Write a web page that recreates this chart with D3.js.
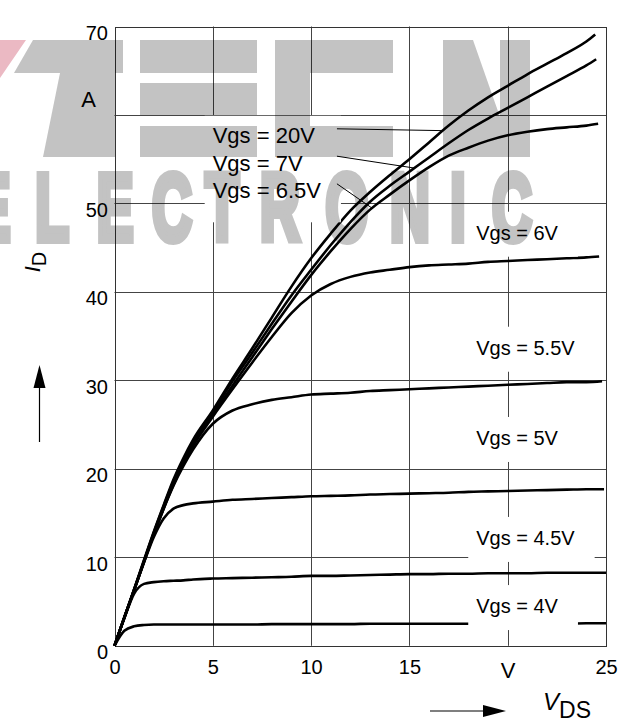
<!DOCTYPE html>
<html>
<head>
<meta charset="utf-8">
<script src="https://cdn.jsdelivr.net/npm/d3@7"></script>
<style>
  html, body { margin: 0; padding: 0; background: #fff; }
  svg { display: block; font-family: "Liberation Sans", Arial, Helvetica, sans-serif; }
</style>
</head>
<body>
<svg id="chart" width="629" height="722"></svg>
<script>
// Output characteristics I_D = f(V_DS), parameter V_GS

// Drain-source voltage sample points (V)
const vds = [0, 0.5, 1, 1.5, 2, 2.5, 3, 3.5, 4, 5, 6, 7, 8, 9, 10, 11, 12, 13, 14,
             15, 16, 17, 18, 19, 20, 21, 22, 23, 24];

// Gate voltages and where each trace stops on the V_DS axis
const gateLabels = ["Vgs = 20V", "Vgs = 7V", "Vgs = 6.5V", "Vgs = 6V",
                    "Vgs = 5.5V", "Vgs = 5V", "Vgs = 4.5V", "Vgs = 4V"];
const vdsEnd = [24.45, 24.5, 24.6, 24.65, 24.8, 24.9, 25, 25];

// Drain current (A) at each vds point, last value at vdsEnd
const id20V  = [0, 3.2, 6.4, 9.7, 12.9, 15.9, 18.8, 21.2, 23.3, 26.6, 30.2, 33.6, 37.1, 40.6, 43.8, 46.6, 49.2, 51.3, 53.2,
                55.0, 56.9, 58.8, 60.5, 62.0, 63.3, 64.6, 65.8, 67.0, 68.3, 69.1];
const id7V   = [0, 3.2, 6.4, 9.6, 12.8, 15.8, 18.6, 21.0, 23.1, 26.4, 29.9, 33.1, 36.4, 39.6, 42.5, 45.3, 47.9, 50.2, 52.0,
                53.6, 55.2, 56.8, 58.3, 59.6, 60.8, 62.0, 63.2, 64.4, 65.6, 66.3];
const id6_5V = [0, 3.2, 6.3, 9.5, 12.7, 15.6, 18.4, 20.8, 22.9, 26.1, 29.4, 32.6, 35.8, 38.9, 41.9, 44.6, 47.1, 49.3, 51.0,
                52.6, 54.1, 55.4, 56.3, 57.1, 57.7, 58.1, 58.4, 58.6, 58.8, 59.0];
const id6V   = [0, 3.2, 6.3, 9.5, 12.6, 15.5, 18.2, 20.6, 22.6, 25.9, 29.0, 32.0, 34.9, 37.6, 39.6, 40.9, 41.7, 42.2, 42.5,
                42.8, 43.0, 43.1, 43.2, 43.4, 43.5, 43.6, 43.7, 43.8, 43.9, 44.0];
const id5_5V = [0, 3.2, 6.3, 9.5, 12.6, 15.5, 18.1, 20.3, 22.2, 25.1, 26.6, 27.3, 27.8, 28.1, 28.4, 28.5, 28.6, 28.8, 28.9,
                29.0, 29.1, 29.2, 29.3, 29.4, 29.5, 29.6, 29.7, 29.8, 29.8, 29.9];
const id5V   = [0, 3.2, 6.3, 9.4, 12.3, 14.4, 15.5, 15.9, 16.1, 16.3, 16.5, 16.6, 16.7, 16.8, 16.9, 16.95, 17.0, 17.1, 17.15,
                17.2, 17.25, 17.3, 17.4, 17.45, 17.5, 17.55, 17.6, 17.65, 17.7, 17.7];
const id4_5V = [0, 3.1, 5.9, 7.0, 7.2, 7.3, 7.35, 7.4, 7.5, 7.6, 7.65, 7.7, 7.75, 7.8, 7.9, 7.9, 7.95, 8.0, 8.05,
                8.1, 8.1, 8.15, 8.15, 8.2, 8.2, 8.2, 8.25, 8.25, 8.25, 8.25];
const id4V   = [0, 1.7, 2.2, 2.35, 2.4, 2.4, 2.4, 2.4, 2.4, 2.4, 2.4, 2.4, 2.45, 2.45, 2.45, 2.45, 2.45, 2.5, 2.5,
                2.5, 2.5, 2.5, 2.5, 2.5, 2.5, 2.5, 2.5, 2.5, 2.55, 2.55];
const currents = [id20V, id7V, id6_5V, id6V, id5_5V, id5V, id4_5V, id4V];

// Axis ticks
const xTicks = [0, 5, 10, 15, 20, 25];
const xTickLabels = ["0", "5", "10", "15", "V", "25"];
const yTicks = [0, 10, 20, 30, 40, 50, 60, 70];
const yTickLabels = ["0", "10", "20", "30", "40", "50", "", "70"];

// V_DS where the leader lines of the three upper labels meet their traces
const leaderVds = [16.7, 15.25, 13.1];
// Label baselines, in amperes, for the traces labelled on the right
const rightLabelId = [45.9, 32.9, 22.7, 11.4, 3.7];

const svg = d3.select("#chart");
const W = 629, H = 722;
const x = d3.scaleLinear().domain([0, 25]).range([114.5, 606]);
const y = d3.scaleLinear().domain([0, 70]).range([645.8, 26.5]);
const FONT = '"Liberation Sans", Arial, Helvetica, sans-serif';
const px = v => Math.round(v) + 0.5;

svg.append("rect").attr("width", W).attr("height", H).attr("fill", "#fff");

// Grid
const grid = svg.append("g").attr("stroke", "#444").attr("stroke-width", 1).attr("fill", "none");
grid.selectAll("line.v").data(xTicks.slice(1, -1)).join("line")
  .attr("x1", d => px(x(d))).attr("x2", d => px(x(d)))
  .attr("y1", y(70)).attr("y2", y(0));
grid.selectAll("line.h").data(yTicks.slice(1, -1)).join("line")
  .attr("x1", x(0)).attr("x2", x(25))
  .attr("y1", d => px(y(d))).attr("y2", d => px(y(d)));
svg.append("rect")
  .attr("x", px(x(0))).attr("y", px(y(70)))
  .attr("width", Math.round(x(25)) - Math.round(x(0)))
  .attr("height", Math.round(y(0)) - Math.round(y(70)))
  .attr("fill", "none").attr("stroke", "#333").attr("stroke-width", 1);

// Traces
const seriesPts = currents.map((ids, s) => ids.map((v, i) => [i < vds.length ? vds[i] : vdsEnd[s], v]));
const line = d3.line().x(d => x(d[0])).y(d => y(d[1])).curve(d3.curveMonotoneX);
svg.append("g").selectAll("path").data(seriesPts).join("path")
  .attr("d", line)
  .attr("fill", "none").attr("stroke", "#000").attr("stroke-width", 2.6)
  .attr("stroke-linejoin", "round").attr("stroke-linecap", "butt");

function idAt(s, v) {
  const pts = seriesPts[s];
  for (let i = 1; i < pts.length; i++) {
    if (v <= pts[i][0]) {
      const t = (v - pts[i - 1][0]) / (pts[i][0] - pts[i - 1][0]);
      return pts[i - 1][1] + t * (pts[i][1] - pts[i - 1][1]);
    }
  }
  return pts[pts.length - 1][1];
}

// Upper-left label block (20 V, 7 V, 6.5 V)
const upX = x(5) - 0.1;
const upBase = [143.3, 170.7, 198.3];
const upBox = svg.append("rect").attr("fill", "#fff");
const upText = svg.append("g").selectAll("text").data(gateLabels.slice(0, 3)).join("text")
  .attr("x", upX).attr("y", (d, i) => upBase[i])
  .attr("font-size", 22).attr("font-family", FONT).attr("fill", "#000")
  .text(d => d);
let upW = 0;
upText.each(function () { upW = Math.max(upW, this.getComputedTextLength()); });
const upRight = upX + upW + 20;
upBox.attr("x", upX - 8).attr("y", upBase[0] - 27.5)
  .attr("width", upW + 28).attr("height", upBase[2] + 24 - (upBase[0] - 27.5));
svg.append("g").attr("stroke", "#000").attr("stroke-width", 1)
  .selectAll("line").data(leaderVds).join("line")
  .attr("x1", upRight - 4).attr("y1", (d, i) => upBase[i] - 14.5)
  .attr("x2", d => x(d)).attr("y2", (d, i) => y(idAt(i, d)));

// Right-hand labels (6 V down to 4 V), each on a white box
const rX = x(18.4);
const rg = svg.append("g").selectAll("g").data(gateLabels.slice(3)).join("g");
rg.each(function (d, i) {
  const g = d3.select(this);
  const base = y(rightLabelId[i]);
  const box = g.append("rect").attr("fill", "#fff");
  const t = g.append("text").attr("x", rX).attr("y", base)
    .attr("font-size", 20).attr("font-family", FONT).attr("fill", "#000").text(d);
  const w = t.node().getComputedTextLength();
  box.attr("x", rX - 8).attr("y", base - 28).attr("width", w + 28).attr("height", 45);
});

// Axis numbers
const gx = svg.append("g").attr("transform", `translate(0,${y(0)})`)
  .call(d3.axisBottom(x).tickValues(xTicks).tickFormat((d, i) => xTickLabels[i]).tickSize(0));
gx.select(".domain").remove();
gx.selectAll("text").attr("dy", null).attr("y", (d, i) => xTickLabels[i] === "V" ? 32.5 : 28.7)
  .attr("font-size", (d, i) => xTickLabels[i] === "V" ? 22 : 20)
  .attr("font-family", FONT).attr("fill", "#000");

const gy = svg.append("g").attr("transform", `translate(${x(0)},0)`)
  .call(d3.axisLeft(y).tickValues(yTicks).tickFormat((d, i) => yTickLabels[i]).tickSize(0).tickPadding(6.5));
gy.select(".domain").remove();
gy.selectAll("text").attr("dy", null).attr("y", 12.7)
  .attr("font-size", 20).attr("font-family", FONT).attr("fill", "#000");

svg.append("text").attr("x", 88.5).attr("y", y(60) - 8).attr("text-anchor", "middle")
  .attr("font-size", 22).attr("font-family", FONT).attr("fill", "#000").text("A");

// Axis titles with arrows
const yt = svg.append("text").attr("transform", "translate(39.5,262) rotate(-90)")
  .attr("text-anchor", "middle").attr("font-family", FONT).attr("fill", "#000");
yt.append("tspan").attr("font-size", 22).attr("font-style", "italic").text("I");
yt.append("tspan").attr("font-size", 20).attr("dy", 6).text("D");

svg.append("line").attr("x1", 39.5).attr("x2", 39.5).attr("y1", 442).attr("y2", 384)
  .attr("stroke", "#000").attr("stroke-width", 1.2);
svg.append("path").attr("d", "M39.5,365 L33.5,388 L45.5,388 Z").attr("fill", "#000");

const xt = svg.append("text").attr("x", 543).attr("y", 710)
  .attr("font-family", FONT).attr("fill", "#000");
xt.append("tspan").attr("font-size", 24).attr("font-style", "italic").text("V");
xt.append("tspan").attr("font-size", 23).attr("dy", 8).text("DS");

svg.append("line").attr("x1", 430).attr("x2", 488).attr("y1", 711).attr("y2", 711)
  .attr("stroke", "#000").attr("stroke-width", 1.2);
svg.append("path").attr("d", "M506,711 L483,705 L483,717 Z").attr("fill", "#000");

// Company logo stamped over the sheet (multiplied so ink stays black)
const wm = svg.append("g").style("mix-blend-mode", "multiply");
const gray = "#c3c3c3";
wm.append("polygon").attr("points", "0,40 26,40 0,78").attr("fill", "#ebb9c3");
const blocks = [
  [[33,40],[123,40],[123,73],[14,73]],           // T bar
  [[60,73],[115,73],[115,157],[43,157]],          // T stem
  [[140,40],[257,40],[257,73],[140,73]],          // E
  [[140,83],[257,83],[257,115],[140,115]],
  [[140,126],[257,126],[257,157],[140,157]],
  [[275,40],[393,40],[393,73],[275,73]],          // C
  [[275,73],[310,73],[310,126],[275,126]],
  [[275,126],[393,126],[393,157],[275,157]],
  [[443,40],[473,40],[500,117],[500,157],[443,157]], // H
  [[500,40],[530,40],[530,157],[500,157]]
];
wm.selectAll("polygon.b").data(blocks).join("polygon")
  .attr("points", d => d.map(p => p.join(",")).join(" ")).attr("fill", gray);
const letters = "ELECTRONIC".split("");
const letterX = [-8, 52, 115, 172, 222, 280, 347, 410, 458, 512];
wm.selectAll("text").data(letters).join("text")
  .attr("transform", (d, i) => `translate(${letterX[i]},239.5) scale(0.58,1)`)
  .attr("text-anchor", "middle").attr("font-size", 95).attr("font-weight", "bold")
  .attr("font-family", FONT).attr("fill", gray)
  .attr("stroke", gray).attr("stroke-width", 8).attr("stroke-linejoin", "miter")
  .text(d => d);
</script>
</body>
</html>
